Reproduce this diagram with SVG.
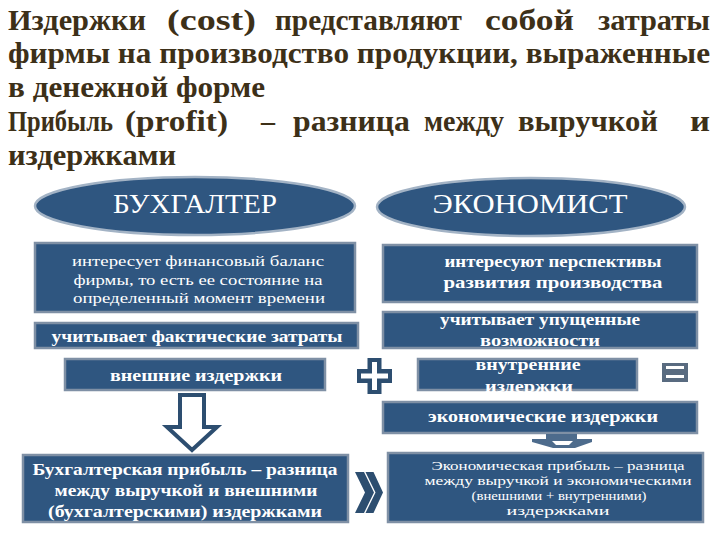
<svg xmlns="http://www.w3.org/2000/svg" width="720" height="540" viewBox="0 0 720 540">
<style>
.t{font-family:"Liberation Serif","DejaVu Serif",serif;font-size:29px;fill:#3d3018;font-weight:bold}
.h{font-family:"Liberation Serif","DejaVu Serif",serif;font-size:27px;fill:#ffffff;text-anchor:middle}
.b{font-family:"Liberation Serif","DejaVu Serif",serif;font-size:15.5px;fill:#ffffff;text-anchor:middle}
.bs{font-family:"Liberation Serif","DejaVu Serif",serif;font-size:13.5px;fill:#ffffff;text-anchor:middle}
.bm{font-family:"Liberation Serif","DejaVu Serif",serif;font-size:17px;fill:#ffffff;text-anchor:middle;font-weight:bold}
.ell{fill:#2f5680;stroke:#a3b3c5;stroke-width:2.5}
.box{fill:#2f5680;stroke:#7f90a5;stroke-width:2.5}
.dk{fill:#2d4e70}
</style>
<rect width="720" height="540" fill="#ffffff"/>
<g id="title">
<text class="t" x="8" y="30" textLength="138" lengthAdjust="spacingAndGlyphs">Издержки</text>
<text class="t" x="167" y="30" textLength="89" lengthAdjust="spacingAndGlyphs">(cost)</text>
<text class="t" x="275" y="30" textLength="187" lengthAdjust="spacingAndGlyphs">представляют</text>
<text class="t" x="485" y="30" textLength="89" lengthAdjust="spacingAndGlyphs">собой</text>
<text class="t" x="598" y="30" textLength="112" lengthAdjust="spacingAndGlyphs">затраты</text>
<text class="t" x="8" y="63" textLength="702" lengthAdjust="spacingAndGlyphs">фирмы на производство продукции, выраженные</text>
<text class="t" x="8" y="97" textLength="257" lengthAdjust="spacingAndGlyphs">в денежной форме</text>
<text class="t" x="8" y="131" textLength="105" lengthAdjust="spacingAndGlyphs">Прибыль</text>
<text class="t" x="125" y="131" textLength="103" lengthAdjust="spacingAndGlyphs">(profit)</text>
<text class="t" x="261" y="131" textLength="14" lengthAdjust="spacingAndGlyphs">–</text>
<text class="t" x="293" y="131" textLength="117" lengthAdjust="spacingAndGlyphs">разница</text>
<text class="t" x="424" y="131" textLength="80" lengthAdjust="spacingAndGlyphs">между</text>
<text class="t" x="518" y="131" textLength="140" lengthAdjust="spacingAndGlyphs">выручкой</text>
<text class="t" x="690" y="131" textLength="20" lengthAdjust="spacingAndGlyphs">и</text>
<text class="t" x="8" y="165" textLength="168" lengthAdjust="spacingAndGlyphs">издержками</text>
</g>
<g id="accountant">
<ellipse class="ell" cx="195" cy="206" rx="160" ry="29"/>
<text class="h" x="195" y="213" textLength="164" lengthAdjust="spacingAndGlyphs">БУХГАЛТЕР</text>
</g>
<g id="economist">
<ellipse class="ell" cx="531" cy="207" rx="154" ry="29"/>
<text class="h" x="530" y="213" textLength="195" lengthAdjust="spacingAndGlyphs">ЭКОНОМИСТ</text>
</g>
<g id="acc-balance">
<rect class="box" x="35" y="243" width="320" height="69"/>
<text class="b" x="198" y="266" textLength="252" lengthAdjust="spacingAndGlyphs">интересует финансовый баланс</text>
<text class="b" x="198" y="285" textLength="249" lengthAdjust="spacingAndGlyphs">фирмы, то есть ее состояние на</text>
<text class="b" x="199" y="303" textLength="252" lengthAdjust="spacingAndGlyphs">определенный момент времени</text>
</g>
<g id="eco-perspective">
<rect class="box" x="383" y="245" width="314" height="57"/>
<text class="bm" x="553" y="267" textLength="217" lengthAdjust="spacingAndGlyphs">интересуют перспективы</text>
<text class="bm" x="553" y="288" textLength="219" lengthAdjust="spacingAndGlyphs">развития производства</text>
</g>
<g id="acc-actual">
<rect class="box" x="35" y="323" width="323" height="25"/>
<text class="bm" x="197" y="342" textLength="291" lengthAdjust="spacingAndGlyphs">учитывает фактические затраты</text>
</g>
<g id="eco-opportunity">
<rect class="box" x="383" y="312" width="314" height="36"/>
<text class="bm" x="540" y="325" textLength="200" lengthAdjust="spacingAndGlyphs">учитывает упущенные</text>
<text class="bm" x="540" y="346" textLength="120" lengthAdjust="spacingAndGlyphs">возможности</text>
</g>
<g id="acc-external">
<rect class="box" x="65" y="359" width="260" height="31"/>
<text class="bm" x="196" y="381" textLength="172" lengthAdjust="spacingAndGlyphs">внешние издержки</text>
</g>
<g id="eco-internal">
<rect class="box" x="418" y="359" width="219" height="31"/>
<text class="bm" x="528" y="370" textLength="105" lengthAdjust="spacingAndGlyphs">внутренние</text>
<text class="bm" x="529" y="392" textLength="88" lengthAdjust="spacingAndGlyphs">издержки</text>
</g>
<g id="eco-costs">
<rect class="box" x="383" y="402" width="314" height="31"/>
<text class="bm" x="543" y="422" textLength="230" lengthAdjust="spacingAndGlyphs">экономические издержки</text>
</g>
<g id="acc-profit">
<rect class="box" x="23" y="455" width="325" height="67"/>
<text class="bm" x="185" y="475" textLength="305" lengthAdjust="spacingAndGlyphs">Бухгалтерская прибыль – разница</text>
<text class="bm" x="186" y="496" textLength="263" lengthAdjust="spacingAndGlyphs">между выручкой и  внешними</text>
<text class="bm" x="185" y="517" textLength="274" lengthAdjust="spacingAndGlyphs">(бухгалтерскими) издержками</text>
</g>
<g id="eco-profit">
<rect class="box" x="388" y="453" width="315" height="69"/>
<text class="bs" x="558" y="470" textLength="253" lengthAdjust="spacingAndGlyphs">Экономическая прибыль – разница</text>
<text class="bs" x="558" y="485" textLength="267" lengthAdjust="spacingAndGlyphs">между выручкой и  экономическими</text>
<text class="bs" x="559" y="500" textLength="175" lengthAdjust="spacingAndGlyphs">(внешними + внутренними)</text>
<text class="bs" x="558" y="515" textLength="103" lengthAdjust="spacingAndGlyphs">издержками</text>
</g>
<g id="plus">
<polygon class="dk" points="367.5,358 381.5,358 381.5,369 392,369 392,383 381.5,383 381.5,394 367.5,394 367.5,383 357,383 357,369 367.5,369"/>
<rect x="372" y="362" width="5" height="28" fill="#ffffff"/>
<rect x="361" y="373.5" width="27" height="5" fill="#ffffff"/>
</g>
<g id="equals">
<rect x="662" y="363" width="26" height="19" fill="#596b80"/>
<rect x="666" y="366" width="18" height="3" fill="#ffffff"/>
<rect x="666" y="375" width="18" height="3" fill="#ffffff"/>
</g>
<g id="connectors">
<polygon points="180,395 204,395 204,427 217,427 192,450 167,427 180,427" fill="#ffffff" stroke="#2d4e70" stroke-width="4" stroke-linejoin="miter"/>
<polygon points="546,434 577,434 577,439 592,439 592,442 575,448 553,448 532,442 532,439 546,439" fill="#4d6b8c"/>
<polygon points="552,441 573,441 569,445 556,445" fill="#ffffff"/>
<polygon class="dk" points="355,472 364,472 374,492.5 364,513 355,513 365,492.5"/>
<polygon class="dk" points="365.5,472 373.5,472 383,492.5 373.5,513 365.5,513 375.5,492.5"/>
</g>
</svg>
